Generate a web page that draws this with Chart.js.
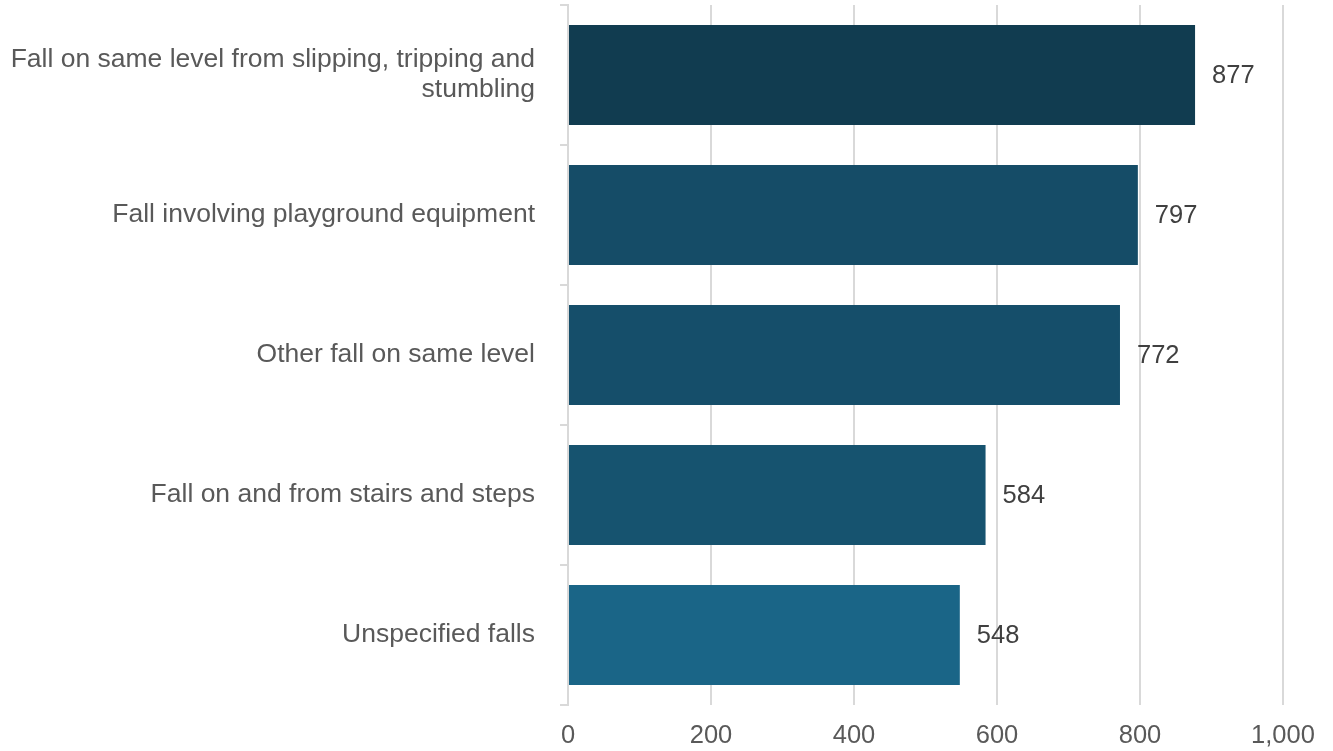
<!DOCTYPE html>
<html>
<head>
<meta charset="utf-8">
<script src="https://cdn.jsdelivr.net/npm/chart.js@4/dist/chart.umd.min.js"></script>
<style>
  html, body { margin: 0; padding: 0; background: #ffffff; }
  #wrap { width: 1333px; height: 751px; }
</style>
</head>
<body>
<div id="wrap"><canvas id="c" width="1333" height="751"></canvas></div>
<script>
const categories = [
  ["Fall on same level from slipping, tripping and", "stumbling"],
  "Fall involving playground equipment",
  "Other fall on same level",
  "Fall on and from stairs and steps",
  "Unspecified falls"
];
const values = [877, 797, 772, 584, 548];
const barColors = ["#113C50", "#154C67", "#154E6A", "#16536F", "#1A6587"];
const xTicks = [0, 200, 400, 600, 800, 1000];

const FONT = "'Liberation Sans', Arial, sans-serif";

const valueLabels = {
  id: 'valueLabels',
  afterDatasetsDraw(chart) {
    const ctx = chart.ctx;
    const meta = chart.getDatasetMeta(0);
    ctx.save();
    ctx.font = "25.5px " + FONT;
    ctx.fillStyle = "#404040";
    ctx.textAlign = "left";
    ctx.textBaseline = "middle";
    meta.data.forEach((bar, i) => {
      ctx.fillText(String(values[i]), bar.x + 17, bar.y + 1);
    });
    ctx.restore();
  }
};

new Chart(document.getElementById('c'), {
  type: 'bar',
  data: {
    labels: categories,
    datasets: [{
      data: values,
      backgroundColor: barColors,
      borderWidth: 0,
      categoryPercentage: 1,
      barPercentage: 0.714
    }]
  },
  options: {
    indexAxis: 'y',
    responsive: false,
    devicePixelRatio: 1,
    animation: false,
    layout: { padding: { top: 5, right: 50, left: 0, bottom: 0 } },
    plugins: {
      legend: { display: false },
      tooltip: { enabled: false }
    },
    scales: {
      x: {
        min: 0,
        max: 1000,
        afterBuildTicks(scale) { scale.ticks = xTicks.map(v => ({ value: v })); },
        grid: { color: '#d9d9d9', lineWidth: 2, drawTicks: false },
        border: { display: false },
        ticks: {
          color: '#595959',
          font: { family: FONT, size: 25.5 },
          padding: 16,
          maxRotation: 0
        },
        afterFit(scale) { scale.height = 46; scale.paddingLeft = 0; scale.paddingRight = 0; }
      },
      y: {
        grid: { drawOnChartArea: false, color: '#d9d9d9', lineWidth: 2, tickLength: 8 },
        border: { display: true, color: '#d9d9d9', width: 2 },
        ticks: {
          color: '#595959',
          font: { family: FONT, size: 26.5, lineHeight: 1.13 },
          padding: 25
        },
        afterFit(scale) { scale.width = 568; scale.paddingTop = 0; scale.paddingBottom = 0; }
      }
    }
  },
  plugins: [valueLabels]
});
</script>
</body>
</html>
